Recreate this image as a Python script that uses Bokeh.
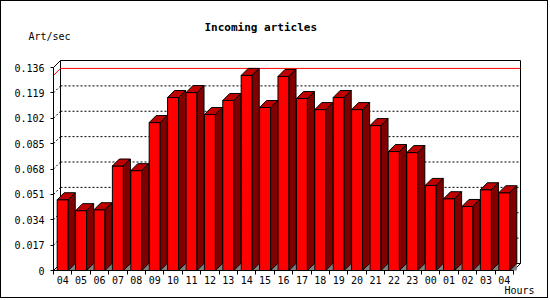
import numpy as np
from bokeh.plotting import figure
from bokeh.models import FixedTicker, CustomJSTickFormatter, Title, Range1d
from bokeh.embed import file_html
from bokeh.resources import INLINE

# ---- data ----
hours = ["04", "05", "06", "07", "08", "09", "10", "11", "12", "13", "14", "15",
         "16", "17", "18", "19", "20", "21", "22", "23", "00", "01", "02", "03", "04"]
rates = [0.0474, 0.0401, 0.0407, 0.0700, 0.0669, 0.0991, 0.1159, 0.1192, 0.1045,
         0.1139, 0.1307, 0.1092, 0.1300, 0.1152, 0.1078, 0.1159, 0.1078, 0.0971,
         0.0797, 0.0790, 0.0570, 0.0481, 0.0429, 0.0541, 0.0521]
y_ticks = [0, 0.017, 0.034, 0.051, 0.068, 0.085, 0.102, 0.119, 0.136]
chart_title = "Incoming articles"
y_title = "Art/sec"
x_title = "Hours"

# ---- geometry (pixels) ----
W, H = 548, 298            # inside a 1px page border
SLOT_PX = 460 / 25         # width of one category slot
DEPTH = 7                  # 3D depth offset in px
AXIS_PX = 203              # px from 0 to top tick
PAD = 2                    # frame padding so edge lines are not clipped
FRAME_W, FRAME_H = 472, 214
FRAME_LEFT, FRAME_TOP = 50, 57
FX0 = FRAME_LEFT + 1       # page x of the frame's left edge

n = len(rates)
ymax_tick = y_ticks[-1]
ypp = ymax_tick / AXIS_PX
dx = DEPTH / SLOT_PX
dy = DEPTH * ypp

mono = "DejaVu Sans Mono"

p = figure(width=W, height=H, output_backend="svg", toolbar_location=None,
           x_range=Range1d(-PAD / SLOT_PX, (FRAME_W - PAD) / SLOT_PX),
           y_range=Range1d(-PAD * ypp, (FRAME_H - PAD) * ypp),
           min_border_left=FRAME_LEFT, min_border_top=FRAME_TOP,
           min_border_right=W - FRAME_LEFT - FRAME_W,
           min_border_bottom=H - FRAME_TOP - FRAME_H)
p.styles = {"border": "1px solid black"}
p.outline_line_color = None
p.grid.visible = False
p.background_fill_color = "white"
p.border_fill_color = "white"

xr = n + dx  # back panel right
# back panel
p.quad(left=[dx], right=[xr], bottom=[dy], top=[ymax_tick + dy],
       fill_color="white", line_color="black", line_width=1)

# grid lines (dotted) on back wall and depth connectors
grid_vals = [t for t in y_ticks if 0 < t < ymax_tick]
p.segment(x0=[dx] * len(grid_vals), y0=[t + dy for t in grid_vals],
          x1=[xr] * len(grid_vals), y1=[t + dy for t in grid_vals],
          line_color="black", line_dash="2 2", line_width=1)
p.segment(x0=[0] * len(grid_vals), y0=grid_vals,
          x1=[dx] * len(grid_vals), y1=[t + dy for t in grid_vals],
          line_color="black", line_dash="2 2", line_width=1)

# max line (red)
vmax = max(rates)
p.segment(x0=[dx], y0=[vmax + dy], x1=[xr], y1=[vmax + dy], line_color="#ff0000", line_width=1)
p.segment(x0=[0], y0=[vmax], x1=[dx], y1=[vmax + dy], line_color="#ff0000", line_width=1)

# floor / axis frame lines
p.segment(x0=[0, 0, 0, n], y0=[0, 0, ymax_tick, 0],
          x1=[dx, 0, dx, n + dx], y1=[dy, ymax_tick, ymax_tick + dy, dy],
          line_color="black", line_width=1)

# bars
centers = np.arange(n) + 0.5
half = 0.3
l = centers - half
r = centers + half
v = np.array(rates)

p.patches(xs=[[ri, ri + dx, ri + dx] for ri in r], ys=[[0, 0, dy] for _ in r],
          fill_color="#808080", line_color=None)
p.quad(left=l, right=r, bottom=0, top=v, fill_color="#ff0000", line_color="black", line_width=1)
p.patches(xs=[[li, ri, ri + dx, li + dx] for li, ri in zip(l, r)],
          ys=[[vi, vi, vi + dy, vi + dy] for vi in v],
          fill_color="#c00000", line_color="black", line_width=1)
p.patches(xs=[[ri, ri + dx, ri + dx, ri] for ri in r],
          ys=[[vi, vi + dy, dy, 0] for vi in v],
          fill_color="#800000", line_color="black", line_width=1)

p.segment(x0=[0], y0=[0], x1=[n], y1=[0], line_color="black", line_width=1)

# axes
xa = p.xaxis[0]
xa.ticker = FixedTicker(ticks=list(centers), minor_ticks=list(range(n + 1)))
xa.formatter = CustomJSTickFormatter(args=dict(labels=hours),
                                     code="return labels[Math.floor(tick)] || '';")
xa.axis_line_color = None
xa.major_tick_line_color = None
xa.major_tick_out = 2
xa.major_tick_in = 0
xa.minor_tick_line_color = "black"
xa.minor_tick_out = 2
xa.minor_tick_in = 2
xa.major_label_standoff = 1
xa.major_label_text_font = mono
xa.major_label_text_font_size = "10px"
xa.major_label_text_color = "black"

ya = p.yaxis[0]
ya.ticker = FixedTicker(ticks=y_ticks)
ya.formatter = CustomJSTickFormatter(code="return tick == 0 ? '0' : tick.toFixed(3);")
ya.axis_line_color = None
ya.major_tick_line_color = "black"
ya.major_tick_out = 1
ya.major_tick_in = 2
ya.minor_tick_line_color = None
ya.major_label_standoff = 6
ya.major_label_text_font = mono
ya.major_label_text_font_size = "10px"
ya.major_label_text_color = "black"

# texts in side panels (nearest the frame first)
p.add_layout(Title(text=" ", text_font_size="1px", standoff=12), "above")
p.add_layout(Title(text=y_title, align="left", offset=28 - FX0, vertical_align="top",
                   standoff=0, text_font=mono, text_font_size="10px",
                   text_font_style="normal", text_color="black"), "above")
p.title.text = chart_title
p.title.align = "left"
p.title.offset = 204 - FX0
p.title.vertical_align = "bottom"
p.title.standoff = -6
p.title.text_font = mono
p.title.text_font_size = "11px"
p.title.text_font_style = "bold"
p.title.text_color = "black"
p.add_layout(Title(text=x_title, align="left", offset=504 - FX0, vertical_align="top",
                   standoff=-4, text_font=mono, text_font_size="10px",
                   text_font_style="normal", text_color="black"), "below")

open("out.html", "w").write(file_html(p, INLINE))
